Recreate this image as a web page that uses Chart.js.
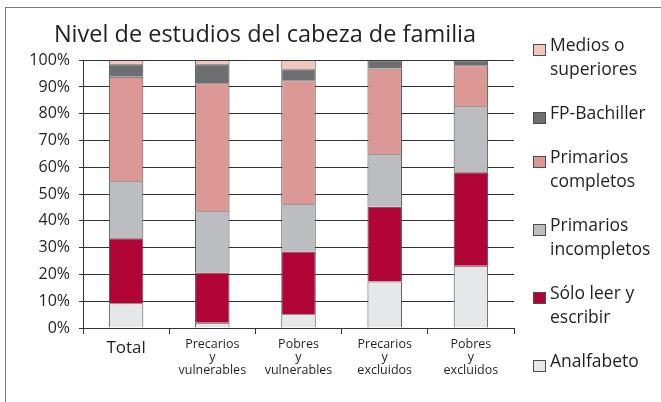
<!DOCTYPE html>
<html>
<head>
<meta charset="utf-8">
<script src="https://cdn.jsdelivr.net/npm/chart.js@4.4.1/dist/chart.umd.min.js"></script>
<style>
  html, body { margin: 0; padding: 0; background: #fff; }
  #wrap { position: relative; width: 661px; height: 402px; overflow: hidden; }
  #frame { position: absolute; left: 5px; top: 7px; width: 700px; height: 500px;
           border-left: 1px solid #777; border-top: 1px solid #777; }
  #chart { position: absolute; left: 0; top: 0; }
</style>
</head>
<body>
<div id="wrap">
  <div id="frame"></div>
  <canvas id="chart" width="661" height="402"></canvas>
</div>
<script>
// categorías (etiquetas de varias líneas)
const categories = [
  "Total",
  ["Precarios", "y", "vulnerables"],
  ["Pobres", "y", "vulnerables"],
  ["Precarios", "y", "excluidos"],
  ["Pobres", "y", "excluidos"]
];

// series, de abajo hacia arriba (%)
const analfabeto   = [9.2, 2.0, 5.1, 17.4, 23.2];
const soloLeer     = [24.3, 18.7, 23.5, 27.9, 35.0];
const primIncomp   = [21.3, 22.9, 17.6, 19.6, 24.6];
const primComp     = [39.0, 47.8, 46.3, 32.0, 15.3];
const fpBachiller  = [4.7, 7.1, 4.1, 3.1, 1.9];
const medios       = [1.5, 1.5, 3.4, 0, 0];

const seriesNames = [
  ["Analfabeto"],
  ["Sólo leer y", "escribir"],
  ["Primarios", "incompletos"],
  ["Primarios", "completos"],
  ["FP-Bachiller"],
  ["Medios o", "superiores"]
];
const seriesColors = ["#e6e7e8", "#b10537", "#bbbdc0", "#db9894", "#6d6e71", "#f2c6bf"];
const seriesData = [analfabeto, soloLeer, primIncomp, primComp, fpBachiller, medios];

const yTicks = [0, 10, 20, 30, 40, 50, 60, 70, 80, 90, 100];

const textColor = "#231f20";
const fontFamily = "'Open Sans', sans-serif";

// leyenda a la derecha con etiquetas de dos líneas
const sideLegend = {
  id: "sideLegend",
  afterDraw(chart) {
    const ctx = chart.ctx;
    const ds = chart.data.datasets;
    const lineH = 24;
    const gap = 20;
    let y = 46;
    ctx.save();
    ctx.font = "17.5px " + fontFamily;
    ctx.textBaseline = "middle";
    ctx.textAlign = "left";
    for (let i = ds.length - 1; i >= 0; i--) {
      const lines = seriesNames[i];
      ctx.fillStyle = ds[i].backgroundColor;
      ctx.fillRect(534, y - 2, 11, 11);
      ctx.strokeStyle = "#4d4d4d";
      ctx.lineWidth = 1;
      ctx.strokeRect(533.5, y - 1.5, 12, 11);
      ctx.fillStyle = textColor;
      lines.forEach((t, k) => ctx.fillText(t, 550, y + k * lineH));
      y += lines.length * lineH + gap;
    }
    ctx.restore();
  }
};

const datasets = seriesData.map((data, i) => ({
  label: seriesNames[i].join(" "),
  data: data,
  backgroundColor: seriesColors[i],
  borderColor: "#4d4d4d",
  borderWidth: 1,
  categoryPercentage: 1,
  barPercentage: 0.4
}));

new Chart(document.getElementById("chart"), {
  type: "bar",
  data: { labels: categories, datasets },
  options: {
    responsive: false,
    animation: false,
    layout: { padding: { left: 16, right: 147, top: 0, bottom: 0 } },
    plugins: {
      legend: { display: false },
      tooltip: { enabled: false },
      title: {
        display: true,
        text: "Nivel de estudios del cabeza de familia",
        color: textColor,
        font: { family: fontFamily, size: 23.5, weight: "normal", lineHeight: 1.2 },
        padding: { top: 21, bottom: 11 }
      }
    },
    scales: {
      x: {
        stacked: true,
        afterFit: s => { s.height = 74; },
        grid: { offset: true, drawOnChartArea: false, tickLength: 6, color: "#333" },
        border: { color: "#333" },
        ticks: {
          color: textColor,
          padding: 4,
          maxRotation: 0,
          autoSkip: false,
          font: c => c.index === 0
            ? { family: fontFamily, size: 17, lineHeight: 1.2 }
            : { family: fontFamily, size: 12.5, lineHeight: 1.05 }
        }
      },
      y: {
        stacked: true,
        min: 0,
        max: 100,
        afterFit: s => { s.width = 67; },
        afterBuildTicks: s => { s.ticks = yTicks.map(v => ({ value: v })); },
        grid: { color: "#333", tickLength: 4 },
        border: { color: "#333" },
        ticks: {
          color: textColor,
          padding: 9,
          font: { family: fontFamily, size: 16 },
          callback: v => v + "%"
        }
      }
    }
  },
  plugins: [sideLegend]
});
</script>
</body>
</html>
